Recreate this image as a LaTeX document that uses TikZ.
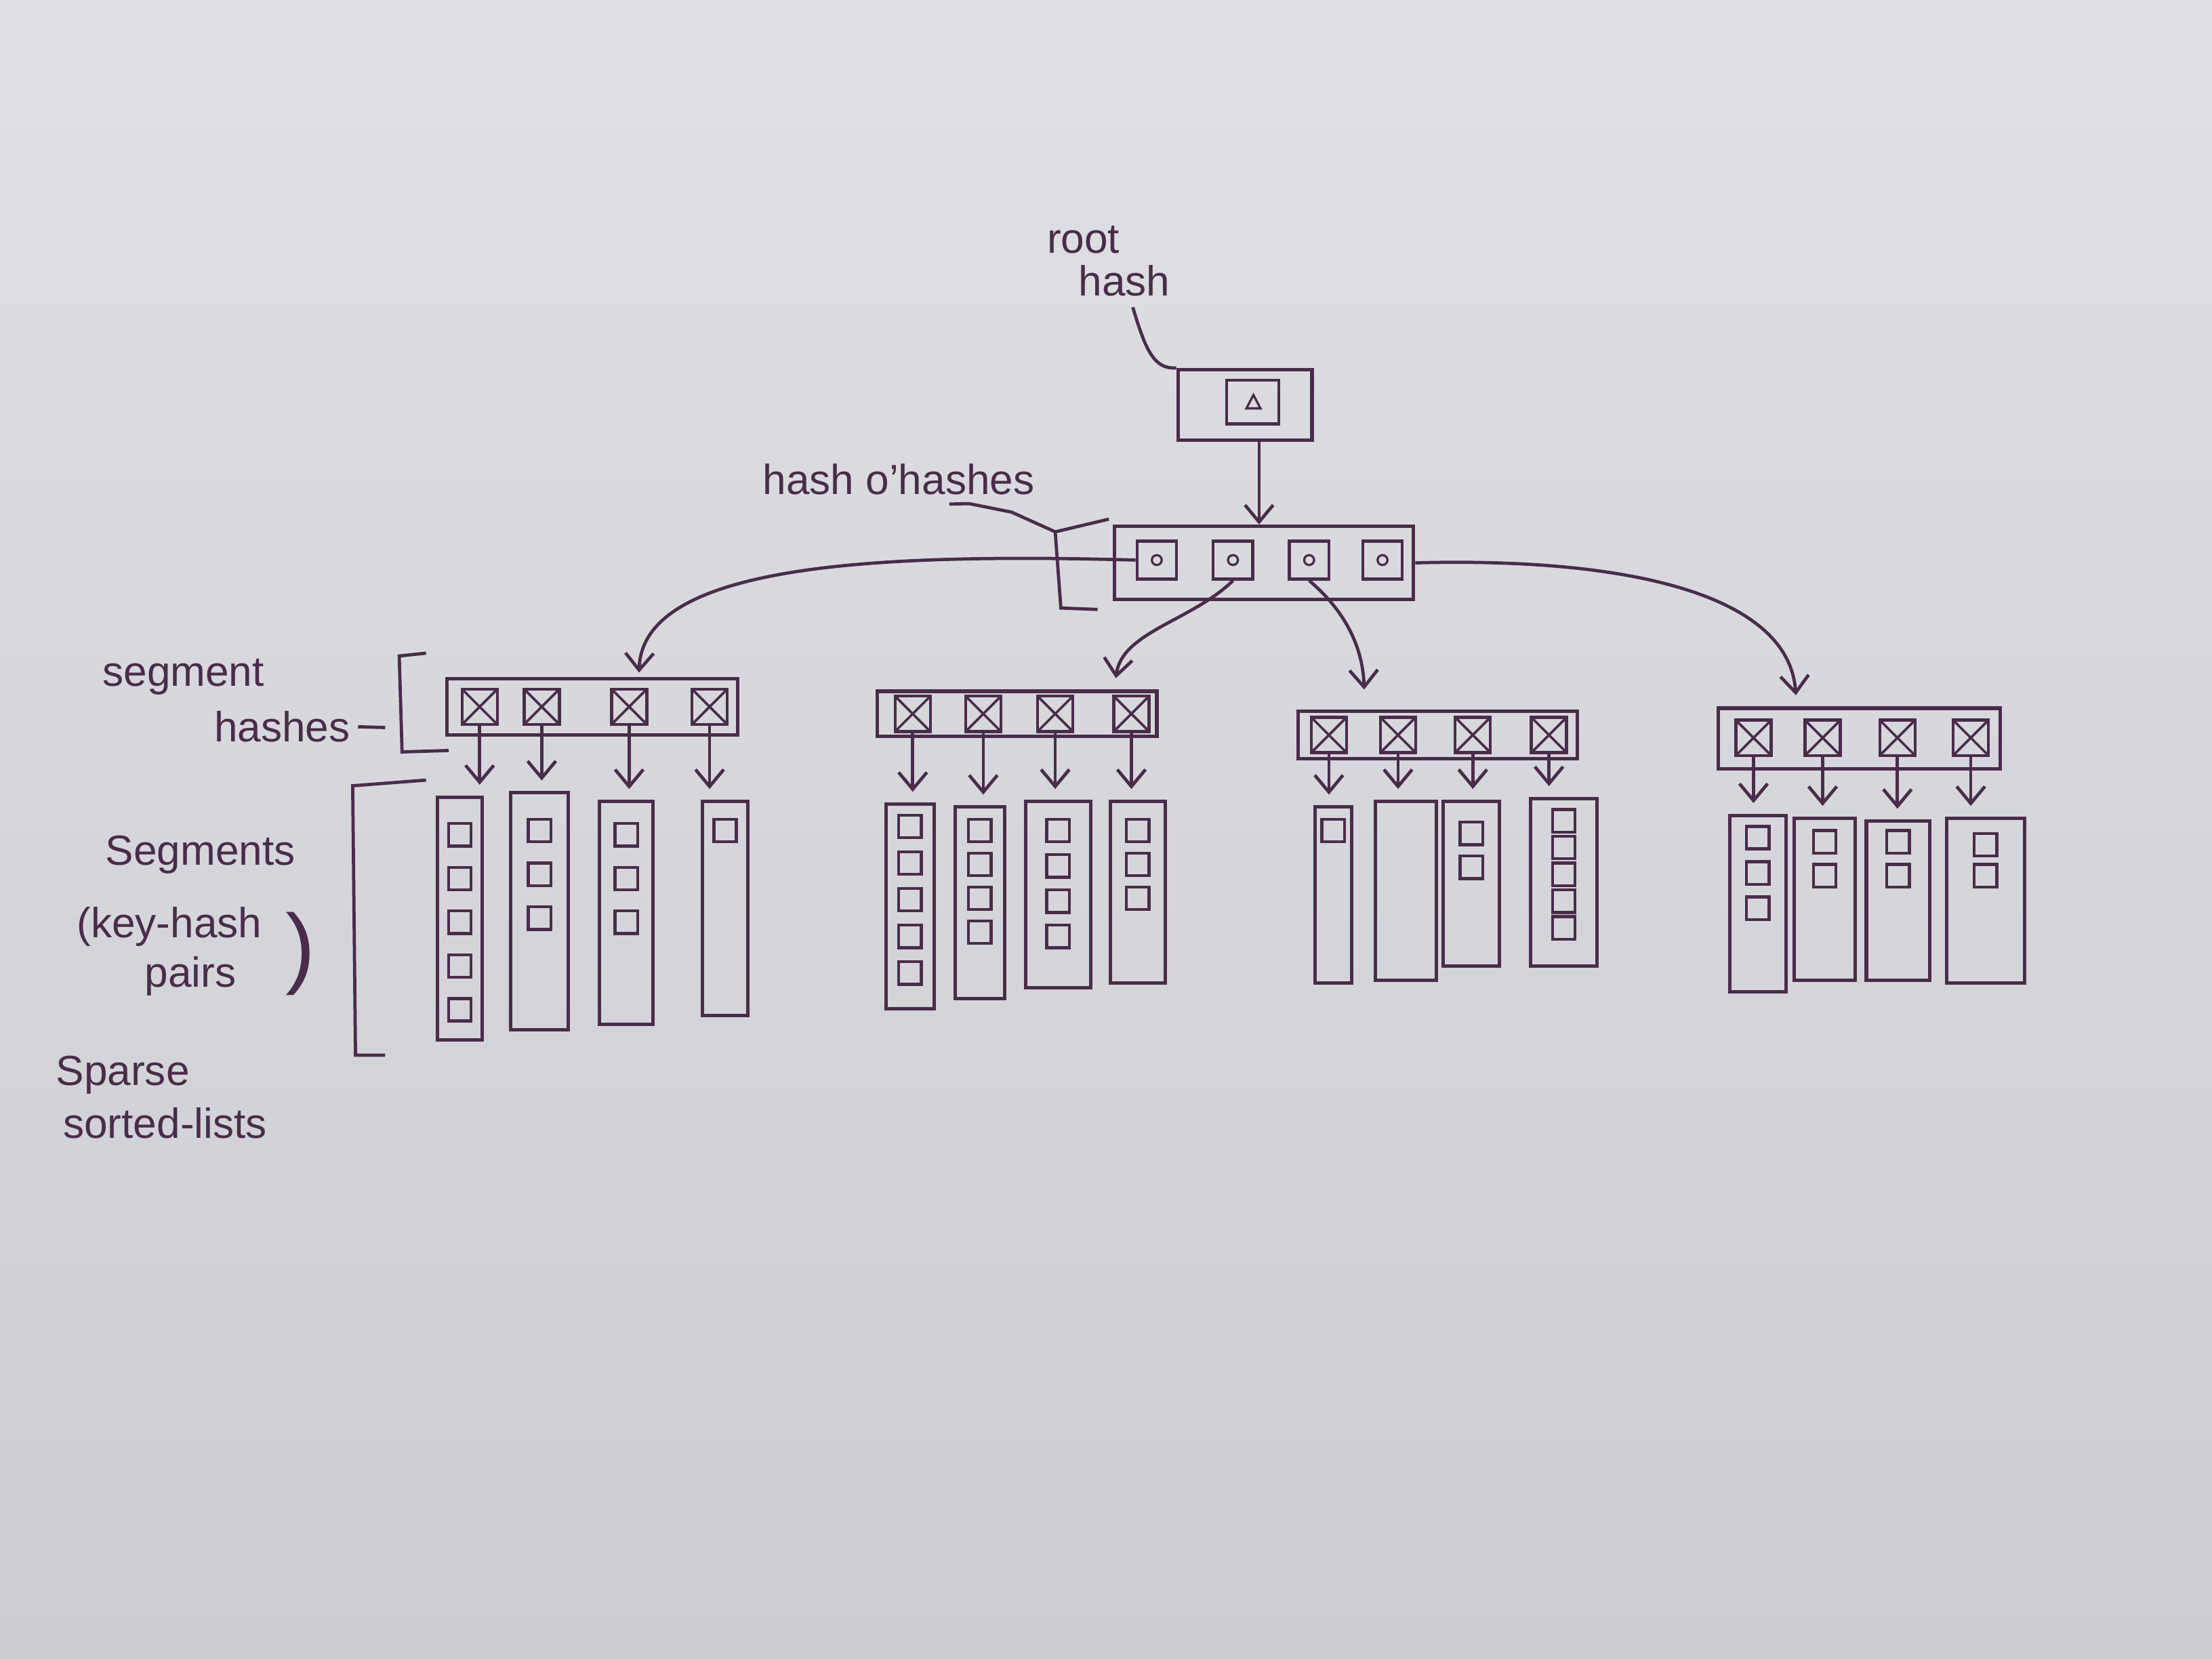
\documentclass[tikz,border=0pt]{standalone}
\usepackage{fontspec}
\setmainfont{Liberation Sans}
\usetikzlibrary{arrows.meta,positioning,fit,calc}
\definecolor{tinta}{RGB}{74,44,74}
\definecolor{papelA}{RGB}{223,224,228}
\definecolor{papelB}{RGB}{204,205,210}

\begin{document}
\begin{tikzpicture}[
x=0.02cm, y=-0.02cm,
traco/.style={draw=tinta, line width=1.4pt},
faixa/.style={traco, inner sep=0pt},
coluna/.style={traco, inner sep=0pt},
celx/.style={traco, line width=1.2pt, minimum size=0.5cm, inner sep=0pt,
  path picture={\draw[tinta, line width=1pt] (path picture bounding box.north west) -- (path picture bounding box.south east) (path picture bounding box.north east) -- (path picture bounding box.south west);}},
celo/.style={traco, line width=1.2pt, minimum width=0.56cm, minimum height=0.54cm, inner sep=0pt,
  path picture={\draw[tinta, line width=0.9pt] (path picture bounding box.center) circle (0.07cm);}},
celt/.style={traco, line width=1.2pt, minimum width=0.74cm, minimum height=0.62cm, inner sep=0pt,
  path picture={\draw[tinta, line width=0.9pt] ([shift={(-0.09cm,-0.09cm)}]path picture bounding box.center) -- ++(0.2cm,0) -- ++(-0.1cm,0.19cm) -- cycle;}},
par/.style={traco, line width=1.2pt, minimum size=0.32cm, inner sep=0pt},
rotulo/.style={text=tinta, font=\fontsize{17}{20}\selectfont, inner sep=0pt},
flecha/.style={-{Straight Barb[length=2.4mm, width=4mm]}, draw=tinta, line width=1.3pt},
fio/.style={draw=tinta, line width=1.3pt}
]
\shade[top color=papelA, bottom color=papelB] (0,0) rectangle (1568,1176);
\useasboundingbox (0,0) rectangle (1568,1176);

% root hash
\node[rotulo] (raiz1) at (768,170) {root};
\node[rotulo] (raiz2) at (797,199) {hash};
\node[faixa, fit={(835,262) (930,312)}] (raiz) {};
\node[celt] (raizq) at (888,285) {};
\draw[fio] ([xshift=0.12cm,yshift=-0.15cm]raiz2.south) .. controls (812,248) and (818,262) .. (raiz.north west);

% hash o'hashes
\node[faixa, fit={(790,373) (1002,425)}] (hoh) {};
\foreach \i/\x in {1/820,2/874,3/928,4/980}
  \node[celo] (hoh\i) at (\x,397) {};
\coordinate (raizb) at ([xshift=0.2cm]raiz.south);
\draw[flecha] (raizb) -- (raizb |- hoh.north);
\node[rotulo] (hohtxt) at (637,340) {hash o'hashes};
\coordinate (hohbr) at (748,377);
\draw[fio] ([xshift=0.72cm,yshift=-0.12cm]hohtxt.south) -- (687,357) -- (717,363) -- (hohbr);
\draw[fio] (786,368) -- (hohbr) -- (752,431) -- (778,432);

% labels on the left
\node[rotulo] (seg1) at (130,480) {segment};
\node[rotulo] (seg2) at (200,515) {hashes};
\coordinate (segbr) at (283,516);
\draw[fio, shorten <=3pt, shorten >=0.2cm] (seg2.east) -- (segbr);
\draw[fio] (302,463) -- (283,465) -- (285,533) -- (318,532);
\node[rotulo] (segs) at (142,606) {Segments};
\node[rotulo] (kh1) at (120,657) {(key-hash};
\node[rotulo] (kh2) at (135,692) {pairs};
\node[rotulo, font=\fontsize{36}{36}\selectfont] (kh3) at (213,676) {)};
\draw[fio] (302,553) -- (250,557) -- (252,748) -- (273,748);
\node[rotulo] (esp1) at (87,762) {Sparse};
\node[rotulo] (esp2) at (117,796) {sorted-lists};

% group 1
\node[faixa, fit={(317,481) (523,521)}] (g1) {};
\foreach \i/\x in {1/340,2/384,3/446,4/503}
  \node[celx] (g1h\i) at (\x,501) {};
\node[coluna, fit={(310,565) (342,737)}] (g1c1) {};
\node[coluna, fit={(362,562) (403,730)}] (g1c2) {};
\node[coluna, fit={(425,568) (463,726)}] (g1c3) {};
\node[coluna, fit={(498,568) (530,720)}] (g1c4) {};

% group 2
\node[faixa, fit={(622,490) (820,522)}] (g2) {};
\foreach \i/\x in {1/647,2/697,3/748,4/802}
  \node[celx] (g2h\i) at (\x,506) {};
\node[coluna, fit={(628,570) (662,715)}] (g2c1) {};
\node[coluna, fit={(677,572) (712,708)}] (g2c2) {};
\node[coluna, fit={(727,568) (773,700)}] (g2c3) {};
\node[coluna, fit={(787,568) (826,697)}] (g2c4) {};

% group 3
\node[faixa, fit={(920,504) (1118,538)}] (g3) {};
\foreach \i/\x in {1/942,2/991,3/1044,4/1098}
  \node[celx] (g3h\i) at (\x,521) {};
\node[coluna, fit={(932,572) (958,697)}] (g3c1) {};
\node[coluna, fit={(975,568) (1018,695)}] (g3c2) {};
\node[coluna, fit={(1023,568) (1063,685)}] (g3c3) {};
\node[coluna, fit={(1085,566) (1132,685)}] (g3c4) {};

% group 4
\node[faixa, fit={(1218,502) (1418,545)}] (g4) {};
\foreach \i/\x in {1/1243,2/1292,3/1345,4/1397}
  \node[celx] (g4h\i) at (\x,523) {};
\node[coluna, fit={(1226,578) (1266,703)}] (g4c1) {};
\node[coluna, fit={(1272,580) (1315,695)}] (g4c2) {};
\node[coluna, fit={(1323,582) (1368,695)}] (g4c3) {};
\node[coluna, fit={(1380,580) (1435,697)}] (g4c4) {};

% key-hash pairs
\foreach \c/\n/\f/\d in {g1c1/5/28/31, g1c2/3/28/31, g1c3/3/25/31, g1c4/1/22/30,
  g2c1/5/17/26, g2c2/4/18/24, g2c3/4/22/25, g2c4/3/22/24,
  g3c1/1/18/20, g3c3/2/24/24, g3c4/5/17/19,
  g4c1/3/17/25, g4c2/2/18/24, g4c3/2/16/24, g4c4/2/20/22}
  \foreach \k in {1,...,\n}
    \node[par] (\c-\k) at ($(\c.north)+(0,\f+\k*\d-\d)$) {};

\foreach \g in {1,...,4}
  \foreach \i in {1,...,4}
    \draw[flecha, shorten >=0.15cm] (g\g h\i.south) -- (g\g h\i.south |- g\g c\i.north);

\draw[flecha] (hoh1.west) .. controls (620,392) and (455,400) .. ([xshift=0.66cm,yshift=0.06cm]g1.north);
\draw[flecha] (hoh2.south) .. controls (845,440) and (795,448) .. ([xshift=1.4cm,yshift=0.16cm]g2.north);
\draw[flecha] (hoh3.south) .. controls (950,430) and (966,455) .. ([xshift=-1.04cm,yshift=0.28cm]g3.north);
\draw[flecha] (hoh.east) .. controls (1150,395) and (1268,420) .. ([xshift=-0.9cm,yshift=0.16cm]g4.north);
\end{tikzpicture}
\end{document}
